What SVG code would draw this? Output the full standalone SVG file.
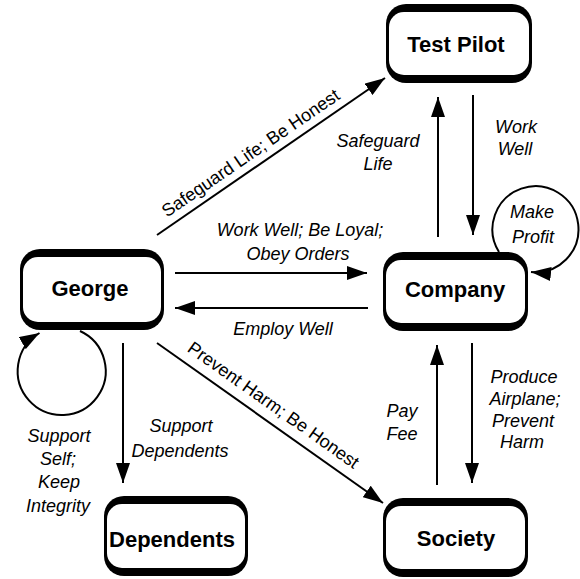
<svg xmlns="http://www.w3.org/2000/svg" width="580" height="579" viewBox="0 0 580 579">
<defs>
<style>
.outer{fill:#000}
.inner{fill:#fff}
.nl{font-family:"Liberation Sans",Arial,sans-serif;font-weight:bold;font-size:22px;text-anchor:middle;fill:#000}
.el{font-family:"Liberation Sans",Arial,sans-serif;font-style:italic;font-size:18px;text-anchor:middle;fill:#000}
.rl{font-family:"Liberation Sans",Arial,sans-serif;font-size:18px;text-anchor:middle;fill:#000}
.c{stroke:#000;stroke-width:2;fill:none;marker-end:url(#ah)}
</style>
<marker id="ah" markerUnits="userSpaceOnUse" markerWidth="22" markerHeight="14" refX="20" refY="7" orient="auto"><path d="M0,0 L20,7 L0,14 z" fill="#000"/></marker>
</defs>
<rect width="580" height="579" fill="#fff"/>
<g id="connectors">
<path class="c" d="M157,235 L385,78"/>
<path class="c" d="M438,237 L438,97"/>
<path class="c" d="M473,95 L473,235"/>
<path class="c" d="M499,252 A43,43 0 1 1 531,272"/>
<path class="c" d="M175,273 L367,273"/>
<path class="c" d="M368,308 L175,308"/>
<path class="c" d="M80,331 A44,44 0 1 1 39.5,333"/>
<path class="c" d="M123,343 L123,483"/>
<path class="c" d="M157,343 L383,503"/>
<path class="c" d="M437,485 L437,345"/>
<path class="c" d="M472,343 L472,483"/>
<text class="rl" transform="translate(254,158) rotate(-34.5)">Safeguard Life; Be Honest</text>
<text class="el" x="378" y="147">Safeguard</text>
<text class="el" x="378" y="170">Life</text>
<text class="el" x="516" y="133">Work</text>
<text class="el" x="515" y="155">Well</text>
<text class="el" x="532" y="218">Make</text>
<text class="el" x="533" y="243">Profit</text>
<text class="el" x="300" y="236">Work Well; Be Loyal;</text>
<text class="el" x="298" y="260">Obey Orders</text>
<text class="el" x="283" y="335">Employ Well</text>
<text class="rl" transform="translate(270,410) rotate(35.3)">Prevent Harm; Be Honest</text>
<text class="el" x="181" y="432">Support</text>
<text class="el" x="180" y="457">Dependents</text>
<text class="el" x="59" y="442">Support</text>
<text class="el" x="58" y="465">Self;</text>
<text class="el" x="59" y="488">Keep</text>
<text class="el" x="58" y="512">Integrity</text>
<text class="el" x="402" y="417">Pay</text>
<text class="el" x="402" y="440">Fee</text>
<text class="el" x="524" y="383">Produce</text>
<text class="el" x="525" y="405">Airplane;</text>
<text class="el" x="523" y="427">Prevent</text>
<text class="el" x="522" y="448">Harm</text>
</g>
<g id="test-pilot">
<rect class="outer" x="386" y="4" width="146" height="79" rx="20"/>
<rect class="inner" x="389" y="12" width="140" height="63" rx="15"/>
<text class="nl" x="456" y="52">Test Pilot</text>
</g>
<g id="george">
<rect class="outer" x="20" y="249" width="144" height="81" rx="20"/>
<rect class="inner" x="23" y="257" width="138" height="65" rx="15"/>
<text class="nl" x="90" y="296">George</text>
</g>
<g id="company">
<rect class="outer" x="383" y="252" width="145" height="79" rx="20"/>
<rect class="inner" x="386" y="260" width="139" height="63" rx="15"/>
<text class="nl" x="455" y="297">Company</text>
</g>
<g id="dependents">
<rect class="outer" x="104" y="496" width="144" height="80" rx="20"/>
<rect class="inner" x="107" y="504" width="138" height="64" rx="15"/>
<text class="nl" x="172" y="547">Dependents</text>
</g>
<g id="society">
<rect class="outer" x="383" y="498" width="145" height="79" rx="20"/>
<rect class="inner" x="386" y="506" width="139" height="63" rx="15"/>
<text class="nl" x="456" y="546">Society</text>
</g>
</svg>
